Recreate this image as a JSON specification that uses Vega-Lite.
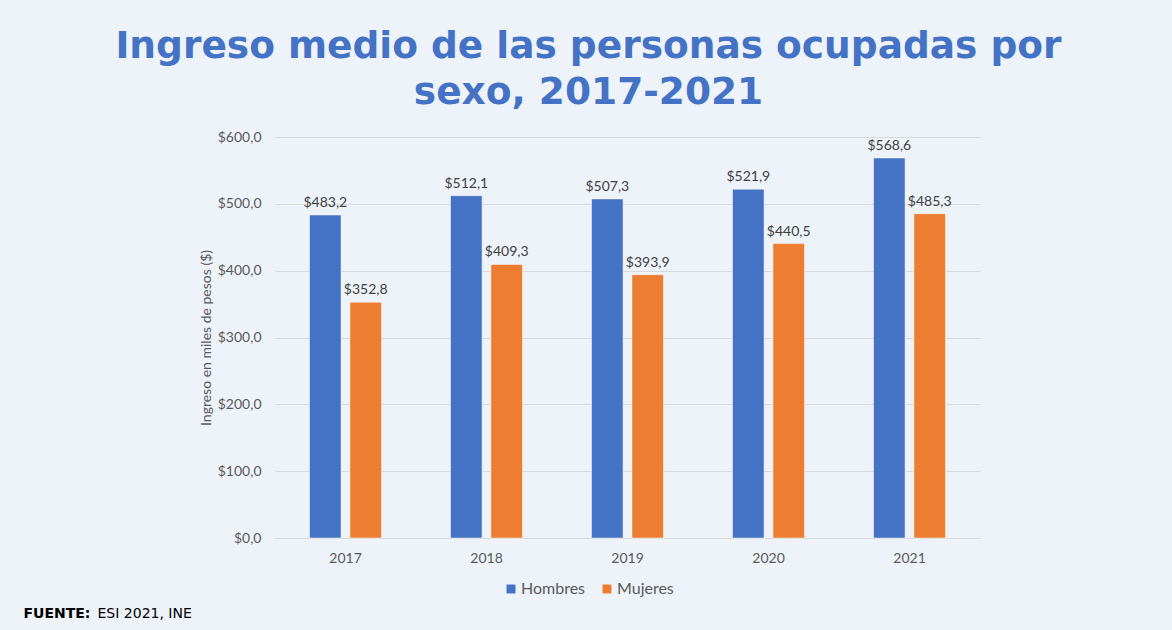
{
  "$schema": "https://vega.github.io/schema/vega-lite/v6.json",
  "autosize": {"type": "none"},
  "width": 705,
  "height": 401,
  "padding": {"left": 275, "top": 137, "right": 192, "bottom": 92},
  "background": "#EEF3FA",
  "config": {
    "view": {"stroke": null},
    "font": "Lato",
    "locale": {
      "number": {"decimal": ",", "thousands": ".", "grouping": [3], "currency": ["$", ""]}
    }
  },
  "title": {
    "text": ["Ingreso medio de las personas ocupadas por", "sexo, 2017-2021"],
    "font": "DejaVu Sans",
    "fontWeight": "bold",
    "fontSize": 37.5,
    "lineHeight": 46,
    "color": "#4472C4",
    "anchor": "middle",
    "frame": "group",
    "dx": -39,
    "offset": 19
  },
  "data": {
    "values": [
      {"anio": "2017", "sexo": "Hombres", "ingreso": 483.2},
      {"anio": "2017", "sexo": "Mujeres", "ingreso": 352.8},
      {"anio": "2018", "sexo": "Hombres", "ingreso": 512.1},
      {"anio": "2018", "sexo": "Mujeres", "ingreso": 409.3},
      {"anio": "2019", "sexo": "Hombres", "ingreso": 507.3},
      {"anio": "2019", "sexo": "Mujeres", "ingreso": 393.9},
      {"anio": "2020", "sexo": "Hombres", "ingreso": 521.9},
      {"anio": "2020", "sexo": "Mujeres", "ingreso": 440.5},
      {"anio": "2021", "sexo": "Hombres", "ingreso": 568.6},
      {"anio": "2021", "sexo": "Mujeres", "ingreso": 485.3}
    ]
  },
  "resolve": {"axis": {"x": "independent"}},
  "encoding": {
    "x": {
      "field": "anio",
      "type": "nominal",
      "scale": {"paddingInner": 0.49, "paddingOuter": 0.245}
    },
    "xOffset": {
      "field": "sexo",
      "type": "nominal",
      "scale": {"paddingInner": 0.22, "paddingOuter": 0}
    },
    "y": {
      "field": "ingreso",
      "type": "quantitative",
      "scale": {"domain": [0, 600]},
      "axis": {
        "values": [0, 100, 200, 300, 400, 500, 600],
        "format": "$.1f",
        "title": "Ingreso en miles de pesos ($)",
        "titleFont": "Lato",
        "titleFontWeight": "normal",
        "titleFontSize": 14,
        "titleColor": "#595959",
        "titlePadding": 4,
        "labelFont": "Lato",
        "labelFontSize": 14,
        "labelColor": "#595959",
        "labelPadding": 14,
        "ticks": false,
        "domain": false,
        "grid": true,
        "gridColor": "#D9D9D9",
        "gridWidth": 1
      }
    }
  },
  "layer": [
    {
      "mark": {"type": "bar", "stroke": "#FFFFFF", "strokeWidth": 0.8, "strokeOpacity": 0.6},
      "encoding": {
        "color": {
          "field": "sexo",
          "type": "nominal",
          "scale": {"domain": ["Hombres", "Mujeres"], "range": ["#4472C4", "#ED7D31"]},
          "legend": {
            "orient": "none",
            "legendX": 228,
            "legendY": 444,
            "direction": "horizontal",
            "title": null,
            "symbolType": "square",
            "symbolSize": 80,
            "symbolStrokeWidth": 0,
            "labelFont": "Lato",
            "labelFontSize": 16,
            "labelColor": "#595959",
            "columnPadding": 13,
            "labelOffset": 2
          }
        },
        "x": {
          "field": "anio",
          "type": "nominal",
          "axis": {
            "orient": "bottom",
            "labelAngle": 0,
            "labelFont": "Lato",
            "labelFontSize": 14,
            "labelColor": "#595959",
            "labelPadding": 13,
            "ticks": false,
            "domain": true,
            "domainColor": "#D9D9D9",
            "title": "FUENTE:",
            "titleFont": "DejaVu Sans",
            "titleFontWeight": "bold",
            "titleFontSize": 14,
            "titleColor": "#000000",
            "titleAlign": "left",
            "titleAnchor": null,
            "titleBaseline": "alphabetic",
            "titleX": -252,
            "titleY": 79
          }
        }
      }
    },
    {
      "mark": {"type": "text", "baseline": "alphabetic", "dy": -8, "font": "Lato", "fontSize": 14, "color": "#404040"},
      "encoding": {
        "text": {"field": "ingreso", "type": "quantitative", "format": "$.1f"},
        "x": {
          "field": "anio",
          "type": "nominal",
          "axis": {
            "orient": "bottom",
            "labels": false,
            "ticks": false,
            "domain": false,
            "grid": false,
            "title": "ESI 2021, INE",
            "titleFont": "DejaVu Sans",
            "titleFontWeight": "normal",
            "titleFontSize": 14,
            "titleColor": "#000000",
            "titleAlign": "left",
            "titleAnchor": null,
            "titleBaseline": "alphabetic",
            "titleX": -178,
            "titleY": 79
          }
        }
      }
    }
  ]
}
